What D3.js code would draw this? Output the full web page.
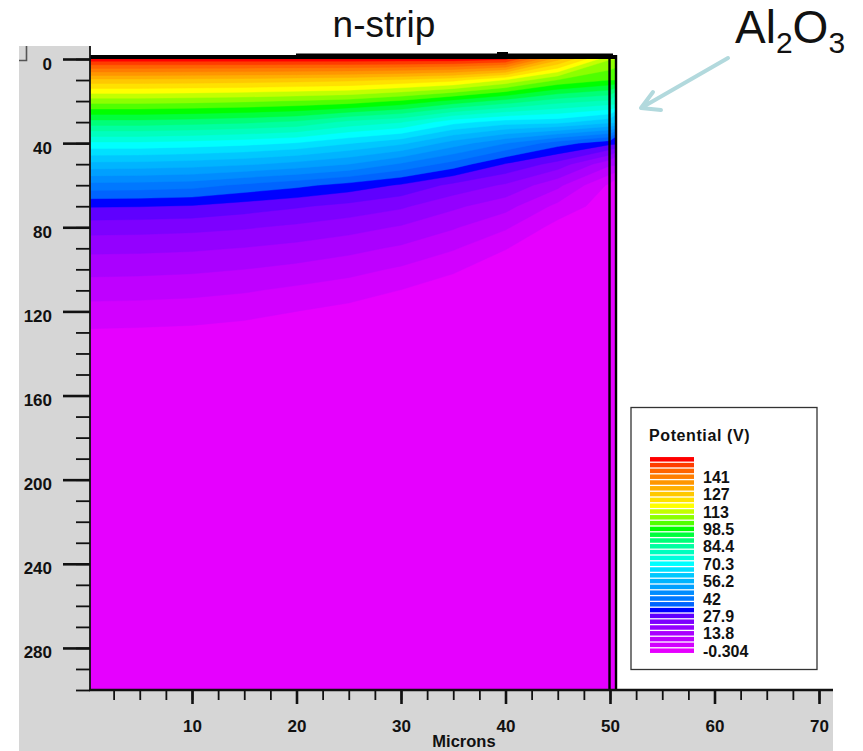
<!DOCTYPE html>
<html>
<head>
<meta charset="utf-8">
<script src="https://cdn.jsdelivr.net/npm/d3@7"></script>
<style>
  html, body { margin: 0; padding: 0; background: #fff; }
  svg { display: block; }
  text { font-family: "Liberation Sans", Arial, sans-serif; fill: #111; }
</style>
</head>
<body>
<svg id="chart" width="863" height="751"></svg>
<script>
// contour levels (V), one per legend strip, from the bottom strip up
const LEVELS = [-0.304, 4.40, 9.10, 13.8, 18.5, 23.2, 27.9, 32.6, 37.3, 42.0,
  46.7, 51.4, 56.2, 60.9, 65.6, 70.3, 75.0, 79.7, 84.4, 89.1, 93.8,
  98.5, 103.2, 107.9, 112.6, 117.3, 122.0, 126.7, 131.4, 136.1, 140.8,
  145.5, 150.2, 154.9];

// printed next to every third strip
const LEGEND_LABELS = ["-0.304", "13.8", "27.9", "42", "56.2", "70.3",
  "84.4", "98.5", "113", "127", "141"];

// sample grid positions (microns)
const GRID_X = [0, 5, 10, 15, 20, 25, 30, 35, 40, 45, 50];
const GRID_DEPTH = [0, 10, 20, 30, 40, 50, 60, 70, 80, 90, 100, 110, 120, 130, 140, 150];

// potential (V) down each column
const pot_x0  = [158, 130, 110, 92, 74, 59.5, 45, 33, 25.3, 19.8, 15.3, 11.2, 7.2, 3.8, 1.5, 0.2];
const pot_x5  = [158, 130, 110, 92, 74, 59.2, 44.7, 32.8, 25.1, 19.6, 15.1, 11.0, 7.0, 3.6, 1.4, 0.2];
const pot_x10 = [158, 129.7, 109.5, 91.2, 73.1, 58.4, 43.9, 32.2, 24.6, 19.2, 14.7, 10.5, 6.6, 3.3, 1.2, 0.1];
const pot_x15 = [158, 129.3, 108.7, 90.0, 71.9, 56.9, 41.0, 30.3, 23.7, 18.3, 13.8, 9.6, 5.7, 2.7, 0.8, 0];
const pot_x20 = [158, 128.6, 107.5, 88.2, 70.0, 54.5, 38.5, 28.5, 22.2, 17.0, 12.5, 8.1, 4.4, 1.7, 0.2, 0];
const pot_x25 = [158, 127.8, 106.0, 83.0, 66.0, 51.4, 35.5, 26.5, 20.4, 15.3, 10.8, 6.5, 3.0, 0.9, 0, -0.2];
const pot_x30 = [158, 126.0, 102.5, 80.0, 62.0, 46.0, 32.0, 24.0, 18.0, 13.0, 8.4, 4.3, 1.5, 0, -0.2, -0.3];
const pot_x35 = [158, 123.5, 97.0, 72.0, 54.0, 40.0, 26.6, 19.5, 14.3, 9.6, 5.0, 2.2, 0.2, -0.2, -0.3, -0.3];
const pot_x40 = [156, 117.0, 92.0, 68.0, 47.0, 32.2, 22.5, 15.5, 9.8, 4.6, 1.8, 0.2, -0.2, -0.3, -0.3, -0.3];
const pot_x45 = [133, 107.7, 86.5, 67.1, 39.5, 26.0, 15.0, 7.8, 2.5, 0.8, 0, -0.3, -0.3, -0.3, -0.3, -0.3];
const pot_x50 = [113, 103.2, 83.5, 62.0, 34.0, 14.7, 3.4, 1.5, 0.5, 0, -0.3, -0.3, -0.3, -0.3, -0.3, -0.3];

const Y_MAJOR = [0, 40, 80, 120, 160, 200, 240, 280];
const X_MAJOR = [10, 20, 30, 40, 50, 60, 70];

// strip colours, bottom to top
const BAND_COLORS = [
  "#e600ff", "#d200ff", "#bf00ff", "#aa00ff", "#9400ff", "#7d00ff", "#5f00ff", "#0000ff",
  "#0064ff", "#0078ff", "#008cff", "#00a0ff", "#00b4ff", "#00c8ff", "#00e1ff", "#00ffff",
  "#00ffdc", "#00ffbe", "#00ffa0", "#00ff78", "#00ff3c", "#00ff00", "#50ff00", "#8cff00",
  "#c3ff00", "#ffff00", "#ffe100", "#ffc800", "#ffaf00", "#ff9600", "#ff7d00", "#ff6400",
  "#ff3c00", "#ff0000"];

const svg = d3.select("#chart");

const x = d3.scaleLinear().domain([0, 70]).range([87.5, 819]);
const y = d3.scaleLinear().domain([0, 300]).range([59, 690]);

const plotLeft = 90, plotRight = 833, plotBottom = 690;
const deviceRight = x(50.5);

// grey panels (left and bottom)
svg.append("rect").attr("x", 19).attr("y", 46).attr("width", plotLeft - 19).attr("height", 751 - 46)
  .attr("fill", "#d6d6d6");
svg.append("rect").attr("x", 19).attr("y", plotBottom).attr("width", plotRight - 19).attr("height", 751 - plotBottom)
  .attr("fill", "#d6d6d6");

// little bevel in the corner
svg.append("path").attr("d", "M19,60.5 H26.5 V46").attr("fill", "none").attr("stroke", "#555").attr("stroke-width", 1.6);

// ---- potential field ----
const clip = svg.append("clipPath").attr("id", "device");
clip.append("rect").attr("x", plotLeft).attr("y", y(0)).attr("width", deviceRight - plotLeft).attr("height", y(300) - y(0));

const field = svg.append("g").attr("clip-path", "url(#device)");

field.append("rect").attr("x", plotLeft).attr("y", y(0)).attr("width", deviceRight - plotLeft).attr("height", y(300) - y(0))
  .attr("fill", BAND_COLORS[0]);

const columns = [pot_x0, pot_x5, pot_x10, pot_x15, pot_x20, pot_x25, pot_x30, pot_x35, pot_x40, pot_x45, pot_x50];
const nx = GRID_X.length, ny = GRID_DEPTH.length;
const values = new Array(nx * ny);
for (let j = 0; j < ny; j++) {
  for (let i = 0; i < nx; i++) {
    values[j * nx + i] = columns[i][j];
  }
}

// grid index -> microns (cell centres sit at index + 0.5)
const gxToMicron = d3.scaleLinear().domain([0, nx - 1]).range([GRID_X[0], GRID_X[nx - 1]]);
const gyToMicron = d3.scaleLinear().domain([0, ny - 1]).range([GRID_DEPTH[0], GRID_DEPTH[ny - 1]]);

const proj = d3.geoTransform({
  point: function(gx, gy) {
    this.stream.point(x(gxToMicron(gx - 0.5)), y(gyToMicron(gy - 0.5)));
  }
});
const path = d3.geoPath(proj);

const bands = d3.contours().size([nx, ny]).thresholds(LEVELS.slice(1))(values);

field.selectAll("path.band")
  .data(bands)
  .enter()
  .append("path")
  .attr("class", "band")
  .attr("d", path)
  .attr("fill", function(d, i) { return BAND_COLORS[i + 1]; })
  .attr("stroke", function(d, i) { return BAND_COLORS[i + 1]; })
  .attr("stroke-width", 0.4);

// outline of the device
svg.append("rect").attr("x", plotLeft).attr("y", 55).attr("width", deviceRight + 1.5 - plotLeft).attr("height", 4)
  .attr("fill", "#000");
svg.append("rect").attr("x", 296).attr("y", 53.5).attr("width", 317).attr("height", 2).attr("fill", "#000");
svg.append("rect").attr("x", 497).attr("y", 52).attr("width", 11).attr("height", 3).attr("fill", "#000");
svg.append("line").attr("x1", x(50) - 0.5).attr("x2", x(50) - 0.5).attr("y1", 55).attr("y2", plotBottom)
  .attr("stroke", "#000").attr("stroke-width", 2.4);
svg.append("line").attr("x1", deviceRight + 0.8).attr("x2", deviceRight + 0.8).attr("y1", 55).attr("y2", plotBottom)
  .attr("stroke", "#000").attr("stroke-width", 2.4);

// ---- axes ----
function styleAxis(g, width) {
  g.select(".domain").remove();
  g.selectAll("line").attr("stroke", "#111").attr("stroke-width", width);
  g.selectAll("text").style("font-size", "17px").style("font-weight", "bold").attr("fill", "#111");
}

svg.append("g").attr("transform", `translate(${plotLeft},0)`)
  .call(d3.axisLeft(y).tickValues(d3.range(0, 301, 10)).tickSize(14).tickFormat(""))
  .call(styleAxis, 1.8);

svg.append("g").attr("transform", `translate(${plotLeft},0)`)
  .call(d3.axisLeft(y).tickValues(Y_MAJOR).tickSize(27).tickPadding(11).tickFormat(d3.format("d")))
  .call(styleAxis, 2.6)
  .call(g => g.selectAll("text").attr("dy", 10));

svg.append("g").attr("transform", `translate(0,${plotBottom})`)
  .call(d3.axisBottom(x).tickValues(d3.range(2.5, 71, 2.5)).tickSize(10).tickFormat(""))
  .call(styleAxis, 1.8);

svg.append("g").attr("transform", `translate(0,${plotBottom})`)
  .call(d3.axisBottom(x).tickValues(X_MAJOR).tickSize(14).tickFormat(d3.format("d")))
  .call(styleAxis, 2.6)
  .call(g => g.selectAll("text").attr("y", 42).attr("dy", 0));

svg.append("line").attr("x1", plotLeft).attr("x2", plotLeft).attr("y1", 46).attr("y2", plotBottom + 1)
  .attr("stroke", "#111").attr("stroke-width", 1.8);
svg.append("line").attr("x1", plotLeft - 1).attr("x2", plotRight).attr("y1", plotBottom).attr("y2", plotBottom)
  .attr("stroke", "#111").attr("stroke-width", 2.4);

svg.append("text").attr("x", 464).attr("y", 747).attr("text-anchor", "middle")
  .style("font-size", "16.5px").style("font-weight", "bold").text("Microns");

// ---- legend ----
const legend = svg.append("g");
legend.append("rect").attr("x", 631).attr("y", 407.5).attr("width", 186).attr("height", 262)
  .attr("fill", "#fff").attr("stroke", "#333").attr("stroke-width", 1.3);
legend.append("text").attr("x", 649).attr("y", 441)
  .style("font-size", "16px").style("font-weight", "bold").style("letter-spacing", "0.6px")
  .text("Potential (V)");

const stripY = d3.scaleLinear().domain([0, LEVELS.length - 1]).range([650.7, 459.3]);

legend.selectAll("rect.strip")
  .data(LEVELS)
  .enter()
  .append("rect")
  .attr("class", "strip")
  .attr("x", 650).attr("width", 44)
  .attr("y", function(d, i) { return stripY(i) - 2.25; })
  .attr("height", 4.5)
  .attr("fill", function(d, i) { return BAND_COLORS[i]; });

legend.selectAll("text.lab")
  .data(LEGEND_LABELS)
  .enter()
  .append("text")
  .attr("class", "lab")
  .attr("x", 703)
  .attr("y", function(d, i) { return stripY(i * 3) + 6; })
  .style("font-size", "16px").style("font-weight", "bold")
  .text(function(d) { return d; });

// ---- annotations ----
svg.append("text").attr("x", 384).attr("y", 37).attr("text-anchor", "middle")
  .style("font-size", "37px").text("n-strip");

const al = svg.append("text").attr("x", 735).attr("y", 43).style("font-size", "46px");
al.append("tspan").text("Al");
al.append("tspan").attr("dy", 10).style("font-size", "30px").text("2");
al.append("tspan").attr("dy", -10).text("O");
al.append("tspan").attr("dy", 10).style("font-size", "30px").text("3");

svg.append("path")
  .attr("d", "M728,58 L641,108 M653,92 L641,108 L661,110")
  .attr("fill", "none").attr("stroke", "#b2d9dd").attr("stroke-width", 4)
  .attr("stroke-linecap", "round").attr("stroke-linejoin", "round");
</script>
</body>
</html>
